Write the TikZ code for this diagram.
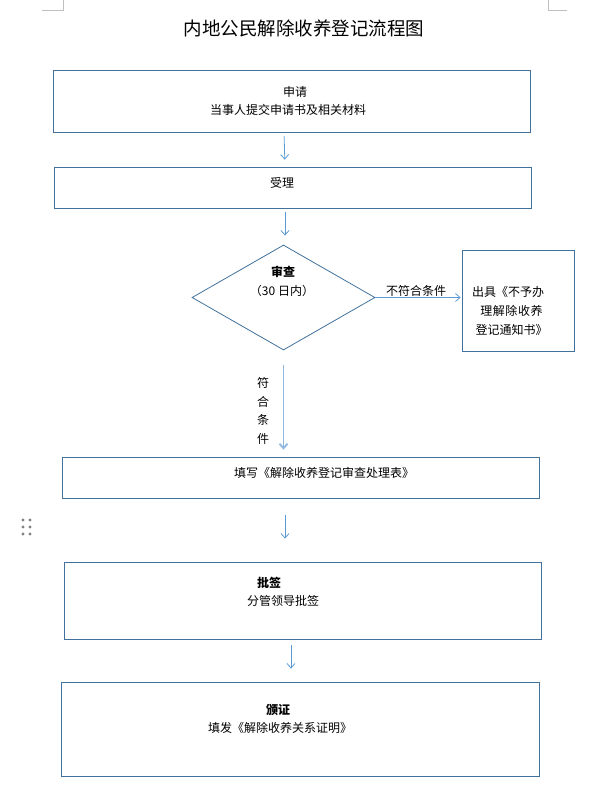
\documentclass[tikz,border=0pt]{standalone}
\usepackage{fontspec}
\setmainfont{Noto Sans CJK SC}
\usetikzlibrary{shapes.geometric,arrows.meta}
\definecolor{boxblue}{HTML}{41719C}
\definecolor{arrblue}{HTML}{5B9BD5}
\definecolor{paleblue}{HTML}{8FB8E0}
\begin{document}
\begin{tikzpicture}[x=1pt,y=-1pt,
  box/.style={draw=boxblue,line width=0.8pt,inner sep=0pt},
  decision/.style={diamond,draw=boxblue,line width=0.8pt,inner sep=0pt,minimum width=183,minimum height=105},
  txt/.style={inner sep=0pt,font=\fontsize{12}{14}\selectfont},
  spaced/.style={inner sep=0pt,font=\fontsize{12}{14}\selectfont\addfontfeature{LetterSpace=5}},
  flow/.style={draw=arrblue,line width=0.8pt,-{Straight Barb[length=4.5pt,width=8pt]}}]
\useasboundingbox (0,0) rectangle (596,797);
% page corner marks
\draw[gray!50] (42,10)--(63,10)--(63,0);
\draw[gray!50] (567,10)--(548,10)--(548,0);
\foreach \y in {520,527,534}
\foreach \x in {23,30}
\fill[gray] (\x,\y) circle[radius=1.7];
\node[inner sep=0pt,font=\fontsize{18.5}{20}\selectfont] (title) at (304,28) {内地公民解除收养登记流程图};
% boxes
\node[box,minimum width=477,minimum height=62] (b1) at (291.5,101) {};
\node[box,minimum width=477,minimum height=41] (b2) at (292.5,187.5) {};
\node[decision] (dia) at (283.5,297.5) {};
\node[box,minimum width=112,minimum height=101] (b3) at (518,300.5) {};
\node[box,minimum width=477,minimum height=41] (b4) at (300.5,477.5) {};
\node[box,minimum width=477,minimum height=77] (b5) at (302.5,600.5) {};
\node[box,minimum width=478,minimum height=94] (b6) at (300,729) {};
% texts
\node[txt] (t1a) at (295,92) {申请};
\node[txt] (t1b) at (288,110) {当事人提交申请书及相关材料};
\node[txt] (t2) at (282,183) {受理};
\node[txt,font=\fontsize{12}{14}\selectfont\bfseries] (t3a) at (283,272) {审查};
\node[txt] (t3b) at (282,291) {（30 日内）};
\node[txt] (no) at (416,291) {不符合条件};
\node[txt] (t4a) at (508,292) {出具《不予办};
\node[spaced] (t4b) at (511.5,311) {理解除收养};
\node[txt] (t4c) at (511.5,330) {登记通知书》};
\node[txt,align=center,font=\fontsize{12}{18.5}\selectfont] (yes) at (263,411) {符\\合\\条\\件};
\node[txt] (t5) at (324,473) {填写《解除收养登记审查处理表》};
\node[txt,font=\fontsize{12}{14}\selectfont\bfseries] (t6a) at (269,583) {批签};
\node[txt] (t6b) at (283,601) {分管领导批签};
\node[txt,font=\fontsize{12}{14}\selectfont\bfseries] (t7a) at (278,710) {颁证};
\node[txt] (t7b) at (280,728) {填发《解除收养关系证明》};
% arrows
\draw[flow,shorten <=4,shorten >=7] ([xshift=-7.5]b1.south) -- ([xshift=-7.5]b2.north);
\draw[flow,shorten <=4,shorten >=9] ([xshift=-7.5]b2.south) -- ([xshift=-7.5]b2.south |- dia.north);
\draw[flow,shorten >=1] (dia.east) -- (dia.east -| b3.west);
\draw[flow,draw=paleblue,line width=1.8pt,shorten <=15,shorten >=7] (dia.south) -- (dia.south |- b4.north);
\draw[flow,shorten <=17,shorten >=23] ([xshift=-15.5]b4.south) -- ([xshift=-17.5]b5.north);
\draw[flow,shorten <=6,shorten >=13] ([xshift=-11.5]b5.south) -- ([xshift=-9]b6.north);
\end{tikzpicture}
\end{document}
